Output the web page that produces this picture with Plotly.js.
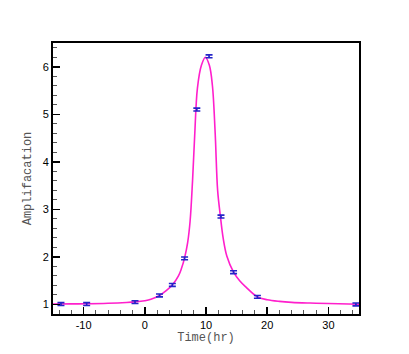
<!DOCTYPE html>
<html>
<head>
<meta charset="utf-8">
<script src="https://cdn.plot.ly/plotly-3.0.1.min.js"></script>
<style>
  body { margin: 0; background: #fff; }
  #chart { width: 409px; height: 354px; }
</style>
</head>
<body>
<div id="chart"></div>
<script>
// measured points (time in hr, amplification) with error bars
var obsTime = [-13.7, -9.5, -1.6, 2.4, 4.5, 6.5, 8.5, 10.5, 12.45, 14.5, 18.4, 34.5];
var obsAmp  = [1.01, 1.01, 1.05, 1.19, 1.41, 1.97, 5.10, 6.22, 2.85, 1.68, 1.16, 1.00];
var obsErr  = [0.03, 0.03, 0.03, 0.03, 0.03, 0.03, 0.03, 0.03, 0.03, 0.03, 0.03, 0.03];

// model curve
var fitTime = [-15, -12, -9.5, -6, -3, -1.6, 0, 1, 2.4, 3.5, 4.5, 5.5, 6, 6.5, 7, 7.4, 7.8, 8.15,
               8.6, 9.25, 9.9, 10.55, 11.05, 11.5, 11.9, 12.35, 12.8, 13.4, 14.5, 15.5, 16.5, 18.4,
               20, 22, 24, 27, 30, 35];
var fitAmp  = [1.01, 1.012, 1.015, 1.025, 1.042, 1.055, 1.08, 1.11, 1.19, 1.29, 1.41, 1.6, 1.76, 1.98, 2.3, 2.75, 3.6, 4.55,
               5.55, 6.03, 6.2, 6.03, 5.6, 4.6, 3.4, 2.86, 2.4, 2.02, 1.68, 1.5, 1.37, 1.16,
               1.1, 1.065, 1.045, 1.03, 1.02, 1.005];

var curve = {
    x: fitTime,
    y: fitAmp,
    mode: "lines",
    type: "scatter",
    line: {color: "#ff1fcc", width: 1.6, shape: "spline", smoothing: 1},
    hoverinfo: "skip"
};

var points = {
    x: obsTime,
    y: obsAmp,
    mode: "markers",
    type: "scatter",
    marker: {size: 1, color: "#2424c8"},
    error_y: {type: "data", array: obsErr, visible: true, color: "#2424c8", thickness: 1.6, width: 3.5}
};

var xTicks = [-10, 0, 10, 20, 30];
var xTickText = ["-10", "0", "10", "20", "30"];
var yTicks = [1, 2, 3, 4, 5, 6];

var layout = {
    width: 409,
    height: 354,
    margin: {l: 53, r: 50, t: 43, b: 40},
    paper_bgcolor: "#fff",
    plot_bgcolor: "#fff",
    showlegend: false,
    font: {family: "Liberation Sans, Arial, sans-serif", size: 11, color: "#000"},
    xaxis: {
        range: [-15, 35],
        tickvals: xTicks,
        ticktext: xTickText,
        ticks: "inside",
        ticklen: 7,
        tickwidth: 1.5,
        tickcolor: "#000",
        minor: {dtick: 2, ticks: "inside", ticklen: 4, tickcolor: "#555", tickwidth: 1},
        showline: true,
        linecolor: "#000",
        linewidth: 2,
        mirror: true,
        showgrid: false,
        zeroline: false,
        title: {text: "Time(hr)", font: {family: "Liberation Mono, Courier New, monospace", size: 12, color: "#555"}, standoff: 0}
    },
    yaxis: {
        range: [0.8, 6.5],
        tickvals: yTicks,
        ticks: "inside",
        ticklen: 7,
        tickwidth: 1.5,
        tickcolor: "#000",
        minor: {dtick: 0.2, ticks: "inside", ticklen: 4, tickcolor: "#555", tickwidth: 1},
        showline: true,
        linecolor: "#000",
        linewidth: 2,
        mirror: true,
        showgrid: false,
        zeroline: false,
        title: {text: "Amplifacation", font: {family: "Liberation Mono, Courier New, monospace", size: 12, color: "#555"}, standoff: 8}
    }
};

Plotly.newPlot("chart", [curve, points], layout, {staticPlot: true});
</script>
</body>
</html>
